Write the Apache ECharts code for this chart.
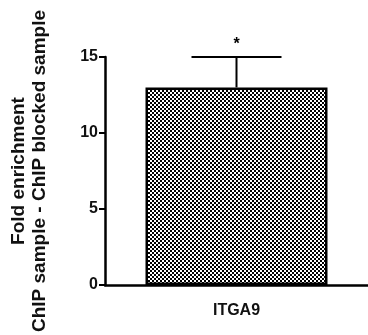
<!DOCTYPE html>
<html>
<head>
<meta charset="utf-8">
<script src="https://cdn.jsdelivr.net/npm/echarts@6/dist/echarts.min.js"></script>
<style>
html,body{margin:0;padding:0;background:#fff;}
#c{width:368px;height:335px;}
</style>
</head>
<body>
<div id="c"></div>
<script>
var categories = ['ITGA9'];
var meanValues = [13];
var errorUpper = [15];
var significance = ['*'];
var yTicks = [0, 5, 10, 15];

var pat = document.createElement('canvas');
pat.width = 4; pat.height = 4;
var g = pat.getContext('2d');
g.fillStyle = '#ffffff'; g.fillRect(0,0,4,4);
g.fillStyle = '#000000'; g.fillRect(0,0,2,2); g.fillRect(2,2,2,2);

var chart = echarts.init(document.getElementById('c'));
var font = '"Liberation Sans", Arial, sans-serif';
chart.setOption({
  animation: false,
  grid: {left: 103, right: -3, top: 57, bottom: 47},
  xAxis: {
    type: 'category',
    data: categories,
    axisLine: {lineStyle: {color: '#000', width: 2.5}},
    axisTick: {alignWithLabel: true, length: 6, lineStyle: {color: '#000', width: 2.5}},
    axisLabel: {color: '#111', fontFamily: font, fontWeight: 'bold', fontSize: 16, margin: 18}
  },
  yAxis: {
    type: 'value',
    min: 0, max: 15, interval: 5,
    splitLine: {show: false},
    axisLine: {show: true, lineStyle: {color: '#000', width: 2.5}},
    axisTick: {show: true, length: 6, lineStyle: {color: '#000', width: 2}},
    axisLabel: {color: '#111', fontFamily: font, fontWeight: 'bold', fontSize: 16, margin: 7,
      formatter: function (v) { return yTicks.indexOf(v) >= 0 ? String(v) : ''; }},
    name: 'Fold enrichment\nChIP sample - ChIP blocked sample',
    nameLocation: 'middle',
    nameRotate: 90,
    nameGap: 55,
    nameTextStyle: {color: '#111', fontFamily: font, fontWeight: 'bold', fontSize: 19, lineHeight: 21}
  },
  series: [
    {
      type: 'bar',
      data: meanValues,
      barWidth: 182,
      itemStyle: {color: {image: pat, repeat: 'repeat'}, borderColor: '#000', borderWidth: 2.5}
    },
    {
      type: 'custom',
      data: categories.map(function (c, i) { return [i, meanValues[i], errorUpper[i]]; }),
      z: 5,
      renderItem: function (params, api) {
        var i = api.value(0);
        var p1 = api.coord([i, api.value(1)]);
        var p2 = api.coord([i, api.value(2)]);
        var hw = 45;
        return {
          type: 'group',
          children: [
            {type: 'line', shape: {x1: p1[0], y1: p1[1], x2: p2[0], y2: p2[1]}, style: {stroke: '#000', lineWidth: 2}},
            {type: 'line', shape: {x1: p2[0] - hw, y1: p2[1], x2: p2[0] + hw, y2: p2[1]}, style: {stroke: '#000', lineWidth: 2}},
            {type: 'text', x: p2[0], y: p2[1] - 4, style: {text: significance[params.dataIndex], fill: '#000', font: 'bold 16px ' + font, textAlign: 'center', textVerticalAlign: 'bottom'}}
          ]
        };
      }
    }
  ]
});
</script>
</body>
</html>
